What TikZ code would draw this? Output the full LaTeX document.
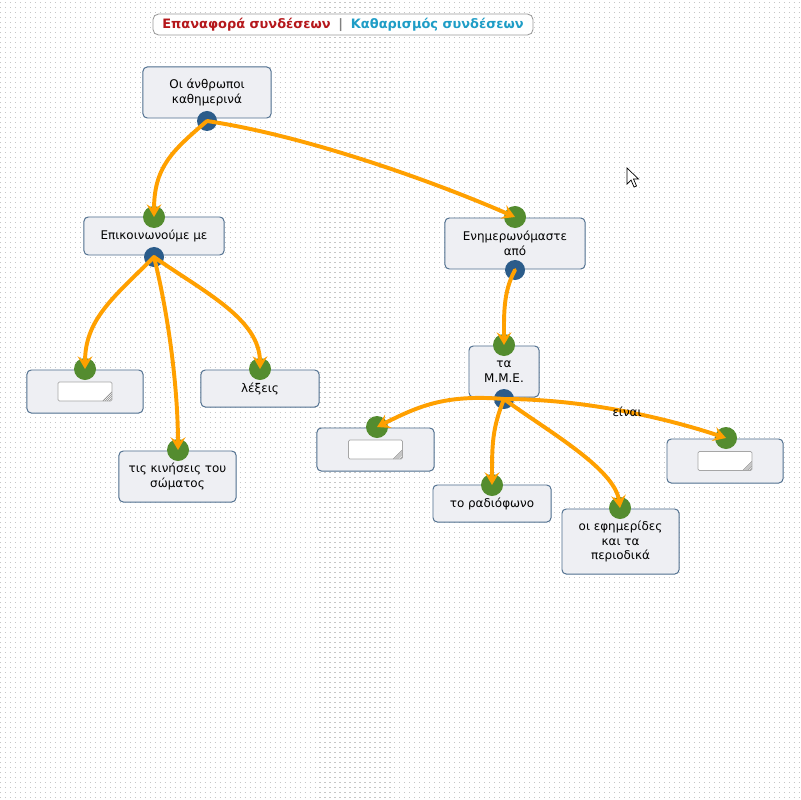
\documentclass[tikz,border=0pt]{standalone}
\usepackage{fontspec}
\setmainfont{DejaVu Sans}
\usetikzlibrary{arrows.meta}

\definecolor{boxfill}{HTML}{EEEFF3}
\definecolor{boxline}{HTML}{4E6E8E}
\definecolor{dotgreen}{HTML}{548C2F}
\definecolor{dotblue}{HTML}{2B5C8A}
\definecolor{linkorange}{HTML}{FFA000}
\definecolor{resetred}{HTML}{B5171B}
\definecolor{clearblue}{HTML}{1E9DC6}

\begin{document}
\begin{tikzpicture}[x=0.025cm, y=-0.025cm,
    concept/.style={draw=boxline, fill=boxfill, rounded corners=3pt, line width=0.7pt,
      align=center, font=\fontsize{8.5}{10.5}\selectfont, inner sep=0pt},
    field/.style={draw=gray!70, fill=white, rounded corners=1pt, line width=0.5pt,
      minimum width=1.35cm, minimum height=0.475cm, inner sep=0pt,
      path picture={\foreach \d in {2,3.5,5,6.5}
        \draw[gray!90, line width=0.4pt] ([xshift=-\d pt]path picture bounding box.south east)
          -- ([yshift=\d pt]path picture bounding box.south east);}},
    indot/.style={circle, fill=dotgreen, minimum size=0.55cm, inner sep=0pt},
    outdot/.style={circle, fill=dotblue, minimum size=0.5cm, inner sep=0pt},
    link/.style={draw=linkorange, line width=2.8pt, line cap=round,
      -{Stealth[length=9pt,width=10.5pt,inset=3.5pt]}}]

  % background with dotted grid
  \fill[white] (0,0) rectangle (800,800);
  \useasboundingbox (0,0) rectangle (800,800);
  \foreach \y in {2.5,7.5,...,800}
    \draw[gray!45, line width=0.8pt, dash pattern=on 0.8pt off 2.75pt] (0,\y) -- (800,\y);

  % header
  \node[draw=gray!80, fill=white, rounded corners=4pt, line width=0.6pt,
        minimum width=9.5cm, minimum height=0.525cm, inner sep=0pt,
        font=\fontsize{9.2}{11}\selectfont\bfseries] (header) at (343,24.5)
    {\textcolor{resetred}{Επαναφορά συνδέσεων}\hspace{0.6em}\textcolor{gray}{|}\hspace{0.6em}\textcolor{clearblue}{Καθαρισμός συνδέσεων}};

  % concepts
  \node[concept, minimum width=3.2cm, minimum height=1.275cm] (people) at (207,92.5) {Οι άνθρωποι\\καθημερινά};
  \node[concept, minimum width=3.5cm, minimum height=0.95cm] (communicate) at (154,236) {Επικοινωνούμε με};
  \node[concept, minimum width=3.5cm, minimum height=1.275cm] (inform) at (515,243.5) {Ενημερωνόμαστε\\από};
  \node[concept, minimum width=2.9cm, minimum height=1.075cm] (blankA) at (85,391.5) {};
  \node[concept, minimum width=2.95cm, minimum height=0.925cm] (words) at (260,388.5) {λέξεις};
  \node[concept, minimum width=2.925cm, minimum height=1.275cm] (gestures) at (177.5,476.5) {τις κινήσεις του\\σώματος};
  \node[concept, minimum width=1.75cm, minimum height=1.275cm] (media) at (504,371.5) {τα\\Μ.Μ.Ε.};
  \node[concept, minimum width=2.925cm, minimum height=1.075cm] (blankB) at (375.5,449.5) {};
  \node[concept, minimum width=2.95cm, minimum height=0.925cm] (radio) at (492,503.5) {το ραδιόφωνο};
  \node[concept, minimum width=2.925cm, minimum height=1.625cm] (press) at (620.5,541.5) {οι εφημερίδες\\και τα\\περιοδικά};
  \node[concept, minimum width=2.9cm, minimum height=1.1cm] (blankC) at (725,461) {};

  % empty input fields
  \node[field] (fieldA) at (blankA.center) {};
  \node[field] (fieldB) at (blankB.center) {};
  \node[field] (fieldC) at (blankC.center) {};

  % connection points
  \node[outdot] (peopleOut) at (207,121) {};
  \node[indot] (communicateIn) at (154,217) {};
  \node[outdot] (communicateOut) at (154,257) {};
  \node[indot] (informIn) at (515,217) {};
  \node[outdot] (informOut) at (515,270) {};
  \node[indot] (blankAIn) at (85,369) {};
  \node[indot] (wordsIn) at (260,369) {};
  \node[indot] (gesturesIn) at (178,450) {};
  \node[indot] (mediaIn) at (504,345) {};
  \node[outdot] (mediaOut) at (504,399) {};
  \node[indot] (blankBIn) at (377,427) {};
  \node[indot] (radioIn) at (492,485) {};
  \node[indot] (pressIn) at (620,508) {};
  \node[indot] (blankCIn) at (726,438) {};

  % links
  \draw[link] (peopleOut.center) .. controls +(-35,30) and +(0,-50) .. (communicateIn.center);
  \draw[link] (peopleOut.center) .. controls +(100,15) and +(-80,-35) .. (informIn.center);
  \draw[link] (communicateOut.center) .. controls +(-40,40) and +(0,-50) .. (blankAIn.center);
  \draw[link] (communicateOut.center) .. controls +(15,60) and +(0,-60) .. (gesturesIn.center);
  \draw[link] (communicateOut.center) .. controls +(50,35) and +(0,-50) .. (wordsIn.center);
  \draw[link] (informOut.center) .. controls +(-12,22) and +(0,-30) .. (mediaIn.center);
  \draw[link] (mediaOut.center) .. controls +(-60,-5) and +(40,-20) .. (blankBIn.center);
  \draw[link] (mediaOut.center) .. controls +(-12,30) and +(0,-40) .. (radioIn.center);
  \draw[link] (mediaOut.center) .. controls +(40,30) and +(-5,-40) .. (pressIn.center);
  \draw[link] (mediaOut.center) .. controls +(80,0) and +(-60,-20) .. (blankCIn.center)
    node[pos=0.52, font=\fontsize{8.5}{10}\selectfont, inner sep=0pt] (isLabel) {είναι};

  % mouse pointer
  \draw[fill=white, line width=0.5pt, line join=miter] (627,168) -- (627,184) -- (631,180) -- (634,187)
    -- (636.5,186) -- (633.5,179) -- (638.5,179) -- cycle;
\end{tikzpicture}
\end{document}
